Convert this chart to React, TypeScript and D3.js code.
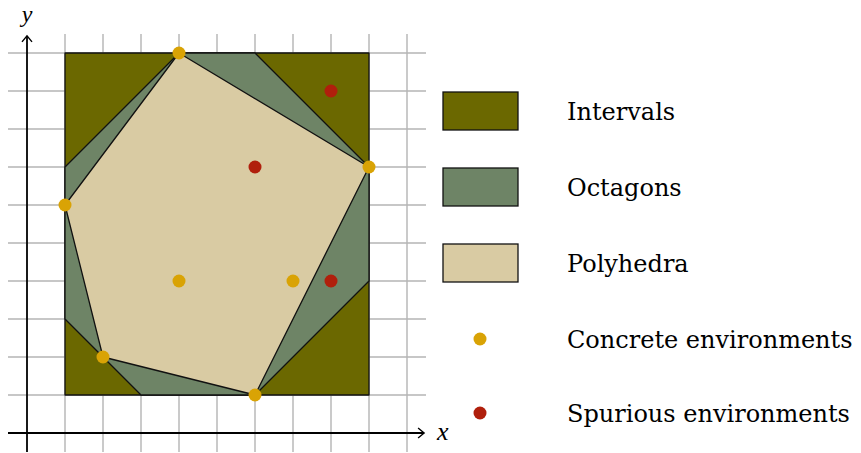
import * as d3 from "d3";

// abstract domains over integer grid
const intervalBox: [number, number][] = [
  [1, 1], [9, 1], [9, 10], [1, 10],
];
const octagon: [number, number][] = [
  [4, 10], [6, 10], [9, 7], [9, 4], [6, 1], [3, 1], [1, 3], [1, 7],
];
const polyhedron: [number, number][] = [
  [4, 10], [9, 7], [6, 1], [2, 2], [1, 6],
];
const concretePoints: [number, number][] = [
  [4, 10], [9, 7], [1, 6], [2, 2], [6, 1], [4, 4], [7, 4],
];
const spuriousPoints: [number, number][] = [
  [8, 9], [6, 7], [8, 4],
];
const gridTicksX = d3.range(1, 11);
const gridTicksY = d3.range(1, 11);

const legendAreas = ["Intervals", "Octagons", "Polyhedra"];
const legendDots = ["Concrete environments", "Spurious environments"];

const colors = {
  intervals: "#6b6800",
  octagons: "#6e8466",
  polyhedra: "#d9cba3",
  concrete: "#d9a305",
  spurious: "#b01f0c",
};

export default function App() {
  const width = 861;
  const height = 453;
  const x = d3.scaleLinear().domain([0, 10]).range([27, 407]);
  const y = d3.scaleLinear().domain([0, 10]).range([433, 53]);
  const line = d3
    .line<[number, number]>()
    .x((d) => x(d[0]))
    .y((d) => y(d[1]));
  const poly = (pts: [number, number][]) => line(pts) + "Z";

  const areaFills = [colors.intervals, colors.octagons, colors.polyhedra];
  const dotFills = [colors.concrete, colors.spurious];

  return (
    <svg
      width={width}
      height={height}
      style={{ position: "absolute", left: 0, top: 0 }}
      fontFamily="'DejaVu Serif', serif"
    >
      <rect width={width} height={height} fill="#fff" />
      {/* grid */}
      <g stroke="#b4b4b4" strokeWidth={1.4}>
        {gridTicksX.map((t) => (
          <line key={"gx" + t} x1={x(t)} x2={x(t)} y1={y(10.5)} y2={y(-0.5)} />
        ))}
        {gridTicksY.map((t) => (
          <line key={"gy" + t} x1={x(-0.5)} x2={x(10.5)} y1={y(t)} y2={y(t)} />
        ))}
      </g>
      {/* domains */}
      <path d={poly(intervalBox)} fill={colors.intervals} stroke="#111" strokeWidth={1.3} strokeLinejoin="round" />
      <path d={poly(octagon)} fill={colors.octagons} stroke="#111" strokeWidth={1.3} strokeLinejoin="round" />
      <path d={poly(polyhedron)} fill={colors.polyhedra} stroke="#111" strokeWidth={1.3} strokeLinejoin="round" />
      {/* axes */}
      <g stroke="#000" strokeWidth={1.8} fill="none">
        <line x1={x(-0.5)} x2={x(10.45)} y1={y(0)} y2={y(0)} />
        <line x1={x(0)} x2={x(0)} y1={y(-0.5)} y2={y(10.45)} />
        <path d={`M${x(10.45) - 6},${y(0) - 5} L${x(10.45)},${y(0)} L${x(10.45) - 6},${y(0) + 5}`} strokeWidth={1.4} />
        <path d={`M${x(0) - 5},${y(10.45) + 6} L${x(0)},${y(10.45)} L${x(0) + 5},${y(10.45) + 6}`} strokeWidth={1.4} />
      </g>
      <text x={x(10.45) + 13} y={y(0) + 7} fontSize={26} fontStyle="italic" fontFamily="'Liberation Serif', serif">
        x
      </text>
      <text x={x(0)} y={22} fontSize={24} fontStyle="italic" textAnchor="middle" fontFamily="'Liberation Serif', serif">
        y
      </text>
      {/* points */}
      {concretePoints.map((p, i) => (
        <circle key={"c" + i} cx={x(p[0])} cy={y(p[1])} r={6.5} fill={colors.concrete} />
      ))}
      {spuriousPoints.map((p, i) => (
        <circle key={"s" + i} cx={x(p[0])} cy={y(p[1])} r={6.5} fill={colors.spurious} />
      ))}
      {/* legend */}
      {legendAreas.map((name, i) => (
        <g key={name} transform={`translate(0,${92 + i * 76})`}>
          <rect x={443} y={0} width={75} height={38} fill={areaFills[i]} stroke="#111" strokeWidth={1.3} />
          <text x={567} y={28} fontSize={24} fill="#000">
            {name}
          </text>
        </g>
      ))}
      {legendDots.map((name, i) => (
        <g key={name} transform={`translate(0,${339 + i * 74})`}>
          <circle cx={480} cy={0} r={6.5} fill={dotFills[i]} />
          <text x={567} y={9} fontSize={24} fill="#000">
            {name}
          </text>
        </g>
      ))}
    </svg>
  );
}
